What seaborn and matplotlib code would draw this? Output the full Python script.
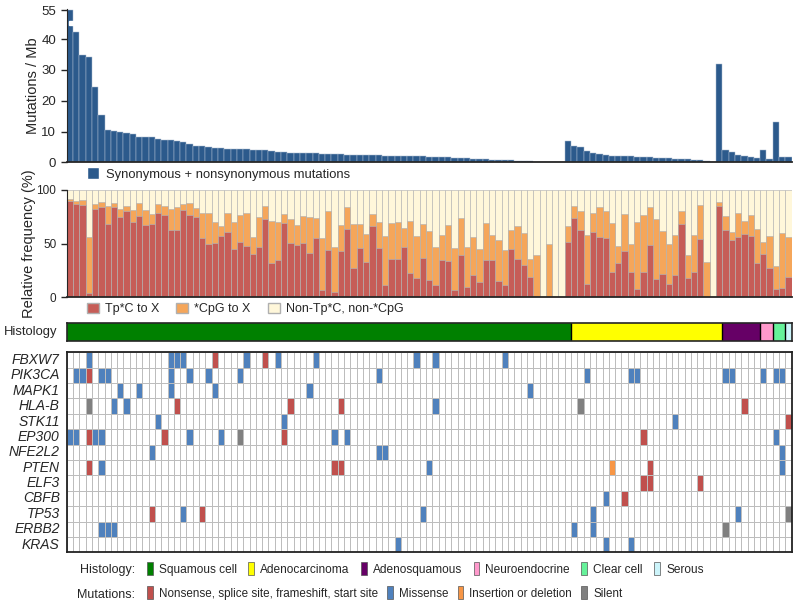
import numpy as np
import matplotlib
matplotlib.use('Agg')
import matplotlib.pyplot as plt
from matplotlib.colors import ListedColormap
from matplotlib.patches import Patch
import seaborn as sns

# =========================================================================== #
# Data (one value per sample column)

mut_rate = [
    55, 42.2, 35.0, 34.3, 24.5, 15.4, 10.5, 10.3, 9.8, 9.5, 9.2, 8.3, 8.3, 8.1,
    7.6, 7.3, 7.1, 6.8, 6.5, 6.0, 5.4, 5.2, 4.9, 4.6, 4.5, 4.4, 4.4, 4.3, 4.2,
    4.1, 4.0,
    3.9, 3.8, 3.3, 3.2, 3.1, 3.0, 3.0, 2.9, 2.9, 2.8, 2.8, 2.7, 2.6, 2.5, 2.5,
    2.4, 2.4, 2.3, 2.3, 2.2, 2.2, 2.1, 2.1, 2.0, 2.0, 1.9, 1.8, 1.8, 1.7, 1.6,
    1.5, 1.4, 1.3, 1.2, 1.1, 1.0, 0.9, 0.8, 0.7, 0.6, 0.5, 0.4, 0.3,
    0.25, 0.2, 0.15, 0.1, 0.1,
    6.9, 5.2, 4.9, 3.8, 3.0, 2.6, 2.3, 2.2, 2.1, 2.0, 1.9, 1.8, 1.7, 1.6, 1.5,
    1.4, 1.3, 1.2, 1.1, 1.0, 0.9, 0.7, 0.4, 0.1,
    31.8, 4.0, 3.4, 2.4, 2.1, 1.7, 1.3, 3.9, 1.2, 13.2, 1.8, 1.8,
]

tpc_pct = [
    90, 87, 86, 4, 82, 84, 68, 84, 75, 80, 70, 76, 67, 68, 79, 77, 63, 63, 81,
    77, 75, 55, 50, 51, 57, 61, 45, 52, 48, 40, 47, 73, 32, 35, 69, 51, 49, 51,
    41, 55, 7, 44, 5, 43, 64, 27, 46, 33, 66, 46, 11, 36, 36, 47, 23, 18, 37,
    16, 11, 35, 34, 7, 39, 10, 21, 14, 35, 35, 15, 11, 45, 36, 30, 19, 1, 0, 0,
    0, 0, 52, 74, 63, 12, 61, 56, 55, 24, 32, 43, 24, 8, 24, 49, 17, 22, 12, 21,
    68, 18, 24, 54, 0, 0, 85, 63, 53, 56, 59, 57, 32, 40, 27, 8, 9, 19,
]
cpg_pct = [
    2, 3, 5, 52, 5, 5, 17, 4, 7, 5, 11, 12, 14, 10, 8, 8, 19, 21, 6, 11, 8, 24,
    29, 19, 9, 18, 25, 25, 31, 16, 28, 12, 39, 35, 9, 22, 18, 25, 34, 19, 48,
    36, 42, 24, 20, 41, 22, 26, 12, 24, 46, 33, 34, 18, 48, 39, 31, 46, 36, 23,
    33, 39, 35, 37, 35, 31, 34, 23, 38, 33, 18, 30, 30, 17, 38, 0, 50, 0, 0,
    14, 11, 17, 46, 18, 28, 25, 45, 16, 35, 26, 62, 53, 35, 56, 40, 38, 37, 12,
    21, 34, 32, 33, 0, 4, 13, 8, 23, 12, 20, 32, 12, 30, 21, 51, 37,
]

histologies = ['Squamous cell', 'Adenocarcinoma', 'Adenosquamous',
               'Neuroendocrine', 'Clear cell', 'Serous']
histology_counts = [80, 24, 6, 2, 2, 1]

genes = ['FBXW7', 'PIK3CA', 'MAPK1', 'HLA-B', 'STK11', 'EP300', 'NFE2L2',
         'PTEN', 'ELF3', 'CBFB', 'TP53', 'ERBB2', 'KRAS']

# N = nonsense etc., M = missense, I = indel, S = silent
mutations = {
    'FBXW7': [(3, 'M'), (16, 'M'), (17, 'M'), (18, 'M'), (23, 'N'), (28, 'M'),
              (31, 'N'), (33, 'M'), (39, 'M'), (55, 'M'), (58, 'M'), (69, 'M')],
    'PIK3CA': [(1, 'M'), (2, 'M'), (3, 'N'), (5, 'M'), (6, 'M'), (16, 'M'),
               (19, 'M'), (22, 'M'), (27, 'M'), (49, 'M'), (82, 'M'), (89, 'M'),
               (90, 'M'), (104, 'M'), (105, 'M'), (110, 'M'), (112, 'M'),
               (113, 'M')],
    'MAPK1': [(8, 'M'), (11, 'M'), (16, 'M'), (23, 'M'), (38, 'M'), (73, 'M')],
    'HLA-B': [(3, 'S'), (7, 'M'), (9, 'M'), (17, 'N'), (35, 'N'), (43, 'N'),
              (58, 'M'), (81, 'S'), (107, 'N')],
    'STK11': [(14, 'M'), (34, 'M'), (96, 'M'), (114, 'N')],
    'EP300': [(0, 'M'), (1, 'M'), (3, 'N'), (4, 'M'), (5, 'M'), (15, 'N'),
              (19, 'M'), (24, 'M'), (27, 'S'), (34, 'N'), (42, 'M'), (44, 'M'),
              (91, 'N'), (112, 'M')],
    'NFE2L2': [(13, 'M'), (49, 'M'), (50, 'M'), (113, 'M')],
    'PTEN': [(3, 'N'), (5, 'M'), (42, 'N'), (43, 'N'), (57, 'M'), (86, 'I'),
             (92, 'N'), (113, 'M')],
    'ELF3': [(91, 'N'), (92, 'N'), (100, 'N')],
    'CBFB': [(85, 'M'), (88, 'N')],
    'TP53': [(13, 'N'), (18, 'M'), (21, 'N'), (56, 'M'), (83, 'M'), (106, 'M'),
             (114, 'S')],
    'ERBB2': [(5, 'M'), (6, 'M'), (7, 'M'), (80, 'M'), (83, 'M'), (104, 'S')],
    'KRAS': [(52, 'M'), (85, 'M'), (89, 'M')],
}
mutation_types = ['N', 'M', 'I', 'S']
mutation_labels = ['Nonsense, splice site, frameshift, start site', 'Missense',
                   'Insertion or deletion', 'Silent']

# =========================================================================== #
# Style

sns.set_style('ticks')
plt.rcParams['font.family'] = ['Liberation Sans', 'DejaVu Sans']
plt.rcParams['font.size'] = 9.5

bar_blue = '#2C5A8C'
tpc_red = '#C65D57'
cpg_orange = '#F5A65A'
non_cream = '#FFF7DA'
hist_colors = ['#008000', '#FFFF00', '#660066', '#FF99CC', '#66F29A', '#CCF4FA']
mut_colors = ['#C0504D', '#4F81BD', '#F79646', '#808080']
bar_edge = '#B4B4B4'

n = len(mut_rate)
x = np.arange(n)

W, H = 800, 608
fig = plt.figure(figsize=(W / 100, H / 100), dpi=100)


def px_axes(left, top, right, bottom):
    return fig.add_axes([left / W, 1 - bottom / H, (right - left) / W,
                         (bottom - top) / H])


x0, x1 = 66.7, 791.7

# =========================================================================== #
# Mutation rate with a broken y axis

lo, hi, squeeze = 44.6, 51.6, 0.2


def fwd(y):
    y = np.asarray(y, dtype=float)
    return np.where(y <= lo, y, np.where(y <= hi, lo + (y - lo) * squeeze,
                                         lo + (hi - lo) * squeeze + (y - hi)))


def inv(t):
    t = np.asarray(t, dtype=float)
    t_hi = lo + (hi - lo) * squeeze
    return np.where(t <= lo, t, np.where(t <= t_hi, lo + (t - lo) / squeeze,
                                         hi + (t - t_hi)))


ax_top = px_axes(x0, 9.3, x1, 162.3)
sns.barplot(x=x, y=mut_rate, color=bar_blue, saturation=1, width=1,
            edgecolor='#A9BBCE', linewidth=0.35, ax=ax_top)
ax_top.set_yscale('function', functions=(fwd, inv))
ax_top.set_ylim(0, 55.3)
ax_top.set_xlim(-0.5, n - 0.5)
ax_top.set_yticks([0, 10, 20, 30, 40, 55])
ax_top.set_xticks([])
ax_top.axhspan(lo, hi, xmin=0.003, color='white', zorder=5)
ax_top.set_ylabel('Mutations / Mb', fontsize=10.5, labelpad=1)
sns.despine(ax=ax_top)
ax_top.spines['bottom'].set_linewidth(1.3)
ax_top.tick_params(axis='y', length=4, width=1, labelsize=9.5)
ax_top.legend([Patch(facecolor=bar_blue)],
              ['Synonymous + nonsynonymous mutations'],
              loc='center left', bbox_to_anchor=(87 / W, 1 - 174 / H),
              bbox_transform=fig.transFigure, frameon=False,
              handlelength=0.95, handleheight=0.95, handletextpad=0.5,
              borderpad=0, borderaxespad=0, fontsize=9.4)

# =========================================================================== #
# Relative frequency of mutation contexts

tpc = np.array(tpc_pct)
cpg = np.array(cpg_pct)
ax_rel = px_axes(x0, 190, x1, 297.3)
sns.barplot(x=x, y=np.full(n, 100), color=non_cream, saturation=1, width=1,
            edgecolor=bar_edge, linewidth=0.45, ax=ax_rel)
sns.barplot(x=x, y=tpc + cpg, color=cpg_orange, saturation=1, width=1,
            edgecolor=bar_edge, linewidth=0.45, ax=ax_rel)
sns.barplot(x=x, y=tpc, color=tpc_red, saturation=1, width=1,
            edgecolor=bar_edge, linewidth=0.45, ax=ax_rel)
ax_rel.set_ylim(0, 100)
ax_rel.set_xlim(-0.5, n - 0.5)
ax_rel.set_yticks([0, 50, 100])
ax_rel.set_xticks([])
ax_rel.set_ylabel('Relative frequency (%)', fontsize=10.5, labelpad=0.5)
sns.despine(ax=ax_rel)
ax_rel.spines['bottom'].set_linewidth(1.3)
ax_rel.tick_params(axis='y', length=4, width=1, labelsize=8.5)
ax_rel.legend([Patch(facecolor=tpc_red, edgecolor='#B0B0B0'),
               Patch(facecolor=cpg_orange, edgecolor='#B0B0B0'),
               Patch(facecolor=non_cream, edgecolor='#B0B0B0')],
              ['Tp*C to X', '*CpG to X', 'Non-Tp*C, non-*CpG'],
              ncol=3, loc='center left', bbox_to_anchor=(87 / W, 1 - 309 / H),
              bbox_transform=fig.transFigure, frameon=False,
              handlelength=0.95, handleheight=0.95, handletextpad=0.5,
              columnspacing=1.35, borderpad=0, borderaxespad=0, fontsize=9)

# =========================================================================== #
# Histology bar

hist_codes = np.repeat(np.arange(len(histologies)), histology_counts)
ax_hist = px_axes(x0, 323.3, x1, 341)
sns.heatmap(hist_codes.reshape(1, -1), cmap=ListedColormap(hist_colors),
            vmin=-0.5, vmax=len(histologies) - 0.5, cbar=False,
            xticklabels=False, yticklabels=['Histology'], ax=ax_hist)
for b in np.cumsum(histology_counts)[:-1]:
    ax_hist.axvline(b, color='black', lw=1)
for spine in ax_hist.spines.values():
    spine.set_visible(True)
    spine.set_linewidth(1.2)
ax_hist.tick_params(axis='y', length=0, labelsize=9.4, rotation=0, pad=7)

# =========================================================================== #
# Oncoprint

mat = np.full((len(genes), n), -1)
for gi, gene in enumerate(genes):
    for col, kind in mutations[gene]:
        mat[gi, col] = mutation_types.index(kind)

ax_onc = px_axes(x0, 352.3, x1, 552.3)
sns.heatmap(mat + 1, cmap=ListedColormap(['white'] + mut_colors),
            vmin=-0.5, vmax=4.5, cbar=False, linewidths=0.6,
            linecolor='#BDBDBD', xticklabels=False, yticklabels=genes,
            ax=ax_onc)
for spine in ax_onc.spines.values():
    spine.set_visible(True)
    spine.set_linewidth(1.3)
    spine.set_color('#222222')
ax_onc.tick_params(axis='y', length=0, labelsize=10, rotation=0, pad=5)
for lab in ax_onc.get_yticklabels():
    lab.set_fontstyle('italic')

# =========================================================================== #
# Bottom legends

fig.text(135 / W, 1 - 570.5 / H, 'Histology:', ha='right', va='center',
         fontsize=9)
fig.text(135 / W, 1 - 594.5 / H, 'Mutations:', ha='right', va='center',
         fontsize=9)
fig.legend([Patch(facecolor=c, edgecolor='#555555', linewidth=0.5)
            for c in hist_colors], histologies,
           ncol=len(histologies), loc='center left',
           bbox_to_anchor=(147 / W, 1 - 569 / H), frameon=False,
           handlelength=0.5, handleheight=1.25, handletextpad=0.5,
           columnspacing=0.95, borderpad=0, borderaxespad=0, fontsize=8.6)
fig.legend([Patch(facecolor=c, edgecolor='#555555', linewidth=0.5)
            for c in mut_colors], mutation_labels,
           ncol=len(mut_colors), loc='center left',
           bbox_to_anchor=(147 / W, 1 - 593 / H), frameon=False,
           handlelength=0.5, handleheight=1.25, handletextpad=0.5,
           columnspacing=0.8, borderpad=0, borderaxespad=0, fontsize=8.4)

fig.savefig('out.png', dpi=100)
